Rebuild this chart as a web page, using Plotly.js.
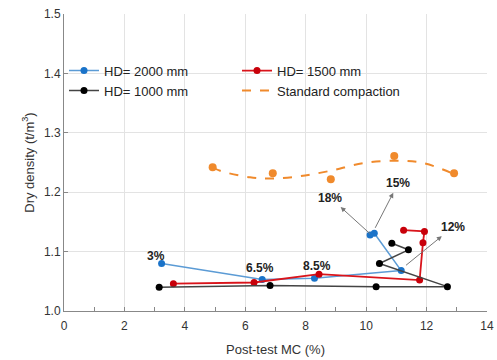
<!DOCTYPE html>
<html>
<head>
<meta charset="utf-8">
<script src="https://cdn.plot.ly/plotly-3.0.1.min.js"></script>
<style>html,body{margin:0;padding:0;background:#fff;}#chart{width:497px;height:360px;}</style>
</head>
<body>
<div id="chart"></div>
<script>
// HD = 2000 mm
const hd2000_x = [3.23, 6.56, 8.29, 11.16, 10.27, 10.13];
const hd2000_y = [1.080, 1.053, 1.055, 1.068, 1.131, 1.128];
// HD = 1500 mm
const hd1500_x = [3.62, 6.29, 8.44, 11.77, 11.88, 11.93, 11.24];
const hd1500_y = [1.046, 1.048, 1.062, 1.052, 1.115, 1.134, 1.136];
// HD = 1000 mm
const hd1000_x = [3.15, 6.82, 10.33, 12.69, 10.44, 11.40, 10.85];
const hd1000_y = [1.040, 1.043, 1.041, 1.041, 1.080, 1.103, 1.114];
// Standard compaction points
const std_x = [4.92, 6.91, 8.83, 10.93, 12.91];
const std_y = [1.242, 1.232, 1.222, 1.261, 1.232];
// Standard compaction trend curve
const trend_x = [4.92, 5.17, 6.16, 6.90, 7.81, 8.81, 9.91, 11.00, 11.90, 12.89];
const trend_y = [1.242, 1.236, 1.225, 1.223, 1.227, 1.236, 1.249, 1.253, 1.249, 1.231];
// Moisture labels
const lbl_text = ['3%', '6.5%', '8.5%'];
const lbl_x = [3.05, 6.5, 8.37];
const lbl_y = [1.092, 1.072, 1.075];
const arrow_text = ['18%', '15%', '12%'];
const arrow_tail_x = [10.13, 10.30, 11.32];
const arrow_tail_y = [1.130, 1.140, 1.077];
const arrow_lbl_x = [8.81, 11.06, 12.89];
const arrow_lbl_y = [1.191, 1.215, 1.142];

const traces = [
  {x: hd2000_x, y: hd2000_y, name: 'HD= 2000 mm', mode: 'lines+markers',
   line: {color: '#5b9bd5', width: 1.5}, marker: {color: '#1a73c9', size: 7}},
  {x: hd1500_x, y: hd1500_y, name: 'HD= 1500 mm', mode: 'lines+markers',
   line: {color: '#d9141b', width: 1.8}, marker: {color: '#c8000a', size: 7}},
  {x: hd1000_x, y: hd1000_y, name: 'HD= 1000 mm', mode: 'lines+markers',
   line: {color: '#444444', width: 1.5}, marker: {color: '#000000', size: 7}},
  {x: trend_x, y: trend_y, name: 'Standard compaction', mode: 'lines',
   line: {color: '#f08a2c', width: 2, dash: 'dash', shape: 'spline'}},
  {x: std_x, y: std_y, name: 'Standard compaction points', mode: 'markers', showlegend: false,
   marker: {color: '#f08a2c', size: 8}}
];

const lblFont = {family: 'Arial, Liberation Sans, sans-serif', size: 12, color: '#222'};
const annotations = [];
for (let i = 0; i < lbl_text.length; i++) {
  annotations.push({x: lbl_x[i], y: lbl_y[i], xref: 'x', yref: 'y', text: '<b>' + lbl_text[i] + '</b>',
    showarrow: false, font: lblFont});
}
for (let i = 0; i < arrow_text.length; i++) {
  annotations.push({x: arrow_tail_x[i], y: arrow_tail_y[i], ax: arrow_lbl_x[i], ay: arrow_lbl_y[i],
    xref: 'x', yref: 'y', axref: 'x', ayref: 'y', text: '<b>' + arrow_text[i] + '</b>', font: lblFont,
    showarrow: true, arrowside: 'start', arrowhead: 2, startarrowhead: 2, startarrowsize: 1,
    arrowwidth: 1, arrowcolor: '#777', borderpad: 2});
}

const layout = {
  width: 497, height: 360,
  margin: {l: 64, r: 10, t: 14, b: 49},
  paper_bgcolor: '#fff', plot_bgcolor: '#fff',
  font: {family: 'Arial, Liberation Sans, sans-serif', size: 12, color: '#333'},
  showlegend: true,
  legend: {orientation: 'h', x: 0, y: 0.86, xanchor: 'left', yanchor: 'top',
    entrywidth: 128, bgcolor: 'rgba(255,255,255,0)', font: {size: 13, color: '#222'},
    itemwidth: 30},
  xaxis: {range: [0, 14], dtick: 2, showgrid: true, gridcolor: '#e3e3e3', zeroline: false,
    showline: true, linecolor: '#888', linewidth: 1, ticks: 'inside', ticklen: 4, tickcolor: '#888',
    minor: {dtick: 1, ticks: 'inside', ticklen: 4, tickcolor: '#888', showgrid: false},
    tickfont: {size: 12, color: '#333'}, ticklabelstandoff: 4,
    title: {text: 'Post-test MC (%)', font: {size: 13, color: '#333'}, standoff: 12}},
  yaxis: {range: [1.0, 1.5], dtick: 0.1, tickformat: '.1f', showgrid: true, gridcolor: '#e3e3e3', zeroline: false,
    showline: true, linecolor: '#888', linewidth: 1, ticks: 'inside', ticklen: 4, tickcolor: '#888',
    tickfont: {size: 12, color: '#333'},
    title: {text: 'Dry density (t/m<sup>3</sup>)', font: {size: 13, color: '#333'}, standoff: 6}},
  annotations: annotations
};

Plotly.newPlot('chart', traces, layout, {displayModeBar: false, staticPlot: true});
</script>
</body>
</html>
